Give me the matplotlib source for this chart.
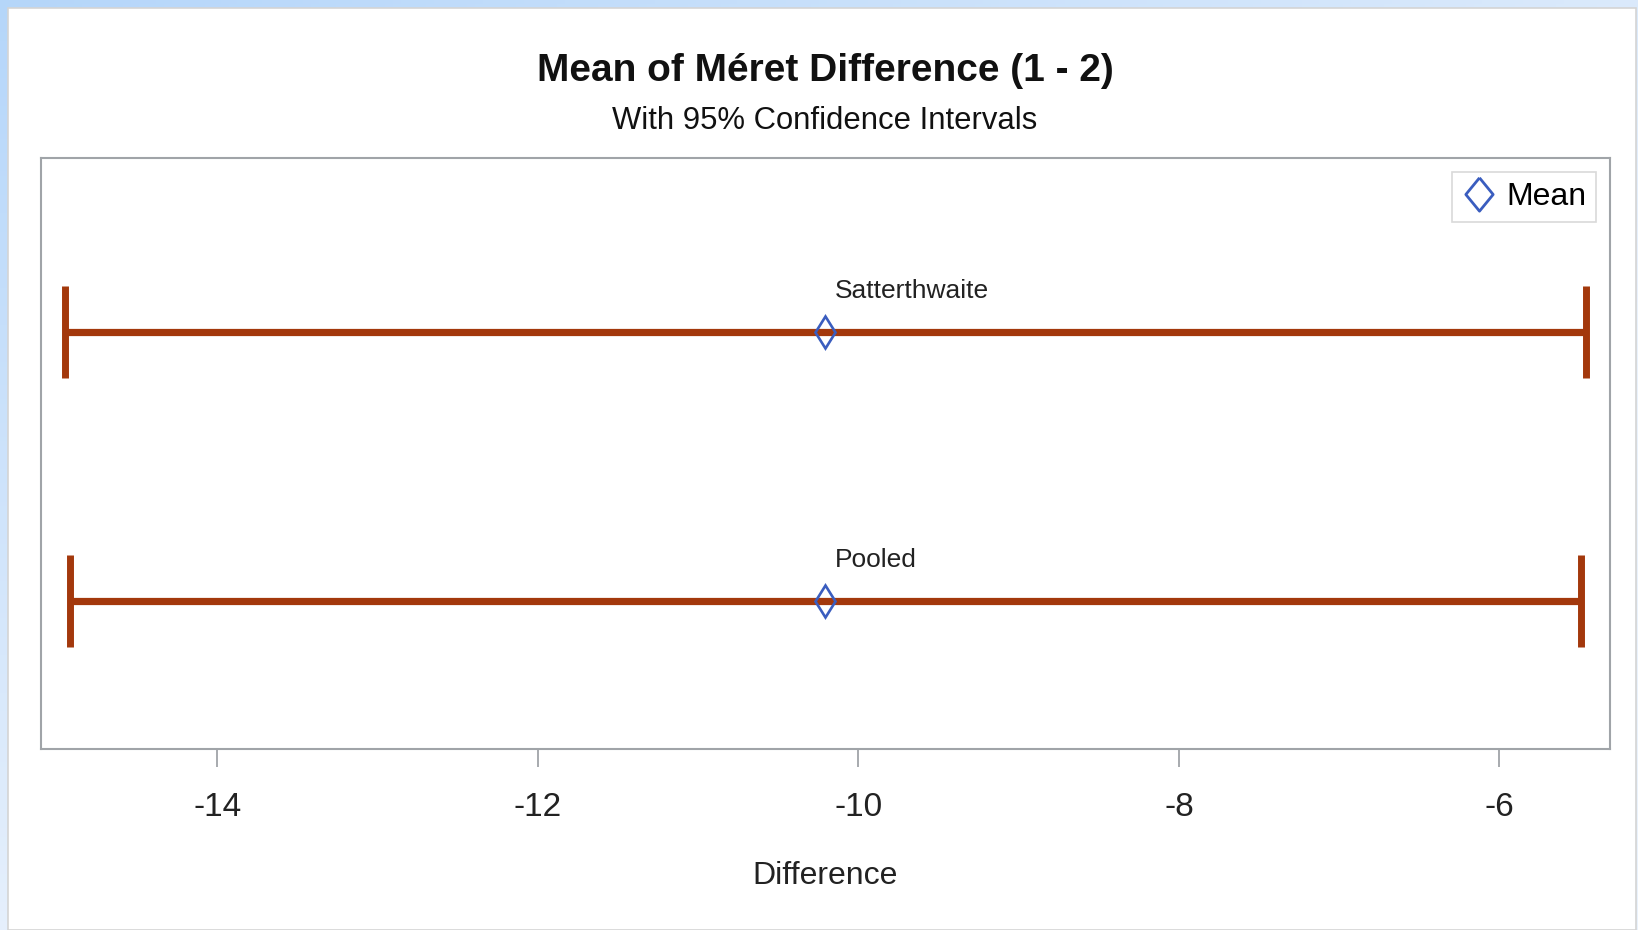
import numpy as np
import matplotlib
matplotlib.use('Agg')
import matplotlib.pyplot as plt
from matplotlib.patches import Rectangle
from matplotlib.lines import Line2D

# 資料
methods = ['Pooled', 'Satterthwaite']
means = [-10.21, -10.21]
lower = [-14.92, -14.95]
upper = [-5.49, -5.46]
xticks = [-14, -12, -10, -8, -6]

plt.rcParams['font.family'] = ['Liberation Sans Narrow', 'Liberation Sans', 'DejaVu Sans']

W, H = 1638, 930
fig = plt.figure(figsize=(W / 100, H / 100), dpi=100)

# 背景的淡藍漸層
bg = fig.add_axes([0, 0, 1, 1], zorder=-10)
gx = np.linspace(0, 1, 200)
gy = np.linspace(0, 1, 200)
GX, GY = np.meshgrid(gx, gy)
c0 = np.array([0.71, 0.84, 0.98])
c1 = np.array([0.92, 0.95, 0.99])
t = np.clip(GX * 0.7 + GY * 0.9, 0, 1)[..., None]
img = c0 * (1 - t) + c1 * t
bg.imshow(img, extent=[0, 1, 0, 1], origin='upper', aspect='auto')
bg.add_patch(Rectangle((8 / W, 0), (W - 10) / W, (H - 8) / H, transform=bg.transAxes,
                       facecolor='white', edgecolor='#d4d4d4', linewidth=1.2))
bg.set_xlim(0, 1)
bg.set_ylim(0, 1)
bg.axis('off')

ax = fig.add_axes([41 / W, 1 - 749 / H, (1610 - 41) / W, (749 - 158) / H])

line_color = '#a3380c'
mark_color = '#3a5dbf'
y = np.arange(len(methods))
means_a = np.array(means)
xerr = [means_a - np.array(lower), np.array(upper) - means_a]

ax.errorbar(means, y, xerr=xerr, fmt='none', ecolor=line_color,
            elinewidth=5.2, capsize=33, capthick=5.0, zorder=2)
ax.plot(means, y, linestyle='none', marker='d', markersize=16.5,
        markerfacecolor='none', markeredgecolor=mark_color, markeredgewidth=1.9, zorder=3)

for yi, m, name in zip(y, means, methods):
    ax.annotate(name, xy=(m, yi), xytext=(7, 21), textcoords='offset points',
                ha='left', va='bottom', fontsize=19, color='#222222')

ax.set_xlim(-15.10, -5.31)
ax.set_ylim(-0.552, 1.648)
ax.set_yticks([])
ax.set_xticks(xticks)
ax.set_xticklabels([str(v) for v in xticks], fontsize=24, color='#222222')
ax.tick_params(axis='x', direction='out', length=13, width=1.3, color='#a0a4a8', pad=18)
for s in ax.spines.values():
    s.set_color('#a0a4a8')
    s.set_linewidth(1.5)
ax.set_xlabel('Difference', fontsize=23, color='#222222', labelpad=27)

diamond = [(0, 1), (0.82, 0), (0, -1), (-0.82, 0), (0, 1)]
leg_handle = Line2D([], [], linestyle='none', marker=diamond, markersize=24,
                    markerfacecolor='none', markeredgecolor=mark_color, markeredgewidth=2.0)
leg = ax.legend([leg_handle], ['Mean'], loc='upper right', fontsize=23, frameon=True,
                fancybox=False, edgecolor='#d0d0d0', borderpad=0.3, handletextpad=0.3,
                handlelength=1.1, borderaxespad=0.45)
leg.get_frame().set_linewidth(1.2)

fig.text(825 / W, 1 - 71 / H, 'Mean of Méret Difference (1 - 2)', ha='center', va='center',
         fontsize=28, fontweight='bold', color='#111111')
fig.text(825 / W, 1 - 121 / H, 'With 95% Confidence Intervals', ha='center', va='center',
         fontsize=22.3, color='#111111')

fig.savefig('out.png', dpi=100)
